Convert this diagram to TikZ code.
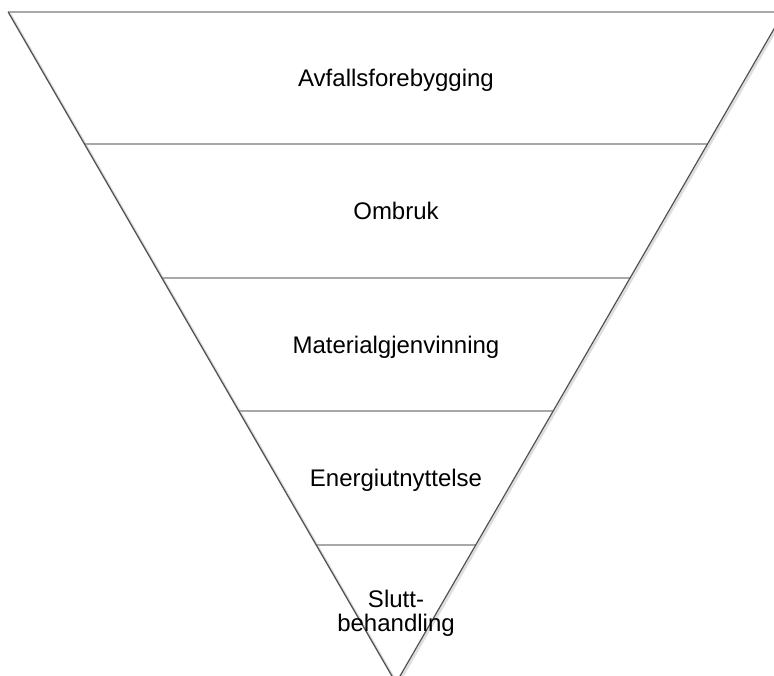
\documentclass[tikz,border=0pt]{standalone}
\usepackage{fontspec}
\setmainfont{Liberation Sans}
\definecolor{hline}{HTML}{A8A8A8}
\definecolor{sline}{HTML}{505050}
\definecolor{shade}{HTML}{D0D0D0}
\begin{document}
\begin{tikzpicture}[x=1pt,y=1pt,
  level/.style={draw=hline,line width=1.4pt},
  slant/.style={draw=sline,line width=1.2pt},
  slantshadow/.style={draw=shade,line width=2.6pt,opacity=0.7},
  label/.style={font=\fontsize{24}{24}\selectfont,text=black,inner sep=0pt,anchor=base,align=center}]
\useasboundingbox (0,0) rectangle (774,676);
\clip (0,0) rectangle (774,676);
\coordinate (L0) at (8.2,664);   \coordinate (R0) at (783.8,664);
\coordinate (L1) at (84.5,532);  \coordinate (R1) at (707.5,532);
\coordinate (L2) at (161.9,398); \coordinate (R2) at (630.1,398);
\coordinate (L3) at (238.8,265); \coordinate (R3) at (553.2,265);
\coordinate (L4) at (316.2,131); \coordinate (R4) at (475.8,131);
\coordinate (A) at (396,-7);
% shadows of slanted edges
\draw[slantshadow] ([shift={(1.5,-1.5)}]L0) -- ([shift={(1.5,-1.5)}]A) -- ([shift={(1.5,-1.5)}]R0);
% horizontal levels
\draw[level] (L0) -- (R0);
\draw[level] (L1) -- (R1);
\draw[level] (L2) -- (R2);
\draw[level] (L3) -- (R3);
\draw[level] (L4) -- (R4);
% slanted edges
\draw[slant] (L0) -- (A) -- (R0);
% labels
\node[label] (t1) at (396,589) {Avfallsforebygging};
\node[label] (t2) at (396,456) {Ombruk};
\node[label] (t3) at (396,322) {Materialgjenvinning};
\node[label] (t4) at (396,189) {Energiutnyttelse};
\node[label] (t5) at (396,44) {Slutt-\\behandling};
\end{tikzpicture}
\end{document}
